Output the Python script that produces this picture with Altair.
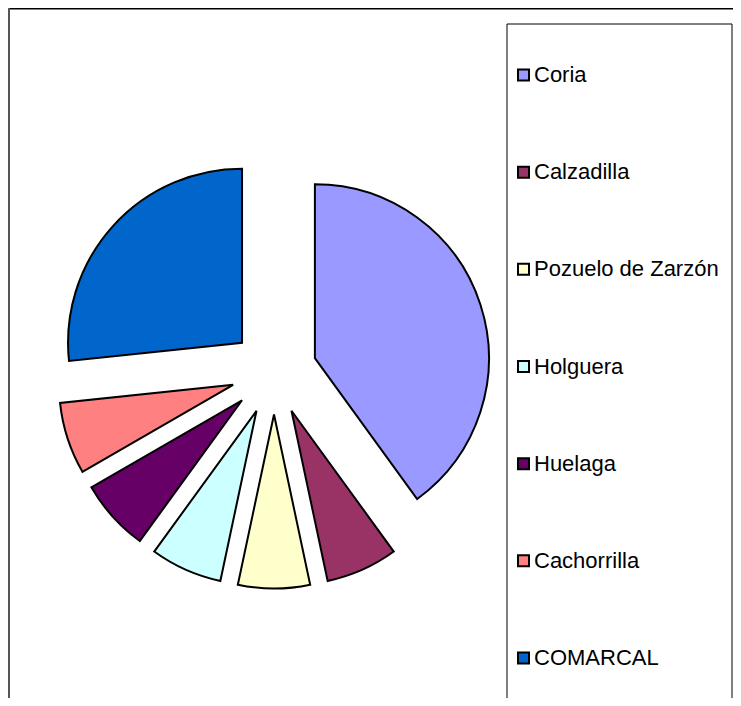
import altair as alt
import pandas as pd

regions = ["Coria", "Calzadilla", "Pozuelo de Zarzón", "Holguera", "Huelaga", "Cachorrilla", "COMARCAL"]
values = [12, 2, 2, 2, 2, 2, 8]
colors = ["#9999FF", "#993366", "#FFFFCC", "#CCFFFF", "#660066", "#FF8080", "#0066CC"]

df = pd.DataFrame({"region": regions, "value": values, "order": list(range(len(regions)))})

W, H = 725, 690
CX, CY, R, EXPLODE = 266, 363.5, 174, 43

base = alt.Chart(df)

pie = (
    base.transform_window(cum="sum(value)", sort=[alt.SortField("order")], frame=[None, 0])
    .transform_joinaggregate(total="sum(value)")
    .transform_calculate(
        t0="2*PI*(datum.cum - datum.value)/datum.total",
        t1="2*PI*datum.cum/datum.total",
    )
    .transform_calculate(mid="(datum.t0 + datum.t1)/2")
    .transform_calculate(
        px=f"{CX} + {EXPLODE}*sin(datum.mid)",
        py=f"{CY} - {EXPLODE}*cos(datum.mid)",
    )
    .mark_arc(radius=R, stroke="black", strokeWidth=2)
    .encode(
        theta=alt.Theta("t0:Q", scale=None),
        theta2="t1:Q",
        x=alt.X("px:Q", scale=None, axis=None),
        y=alt.Y("py:Q", scale=None, axis=None),
        color=alt.Color("region:N", scale=alt.Scale(domain=regions, range=colors), legend=None),
    )
)

legend_box = base.transform_filter("datum.order == 0").mark_rect(
    fill=None, stroke="black", strokeWidth=1
).encode(x=alt.value(499), x2=alt.value(724), y=alt.value(16), y2=alt.value(720))

top_border = base.transform_filter("datum.order == 0").mark_rule(color="black", strokeWidth=1.5).encode(
    x=alt.value(0), x2=alt.value(W), y=alt.value(0.75)
)
left_border = base.transform_filter("datum.order == 0").mark_rule(color="#555555", strokeWidth=2).encode(
    x=alt.value(1), y=alt.value(0), y2=alt.value(H + 10)
)

ly = alt.Y("region:N", sort=regions, axis=None,
           scale=alt.Scale(type="point", domain=regions, range=[67, 650], padding=0))

leg_sym = base.mark_square(size=121, stroke="black", strokeWidth=2, opacity=1).encode(
    x=alt.value(515.5),
    y=ly,
    color=alt.Color("region:N", scale=alt.Scale(domain=regions, range=colors), legend=None),
)

leg_text = base.mark_text(align="left", baseline="middle", fontSize=22, font="Liberation Sans",
                          color="black").encode(
    x=alt.value(526),
    y=ly,
    text="region:N",
)

chart = (
    alt.layer(pie, legend_box, top_border, left_border, leg_sym, leg_text)
    .resolve_scale(y="independent", x="independent")
    .properties(width=W, height=H, padding=0, autosize=alt.AutoSizeParams(type="none"))
    .configure_view(stroke=None)
)

chart.save("out.html", embed_options={"renderer": "svg", "actions": False})
